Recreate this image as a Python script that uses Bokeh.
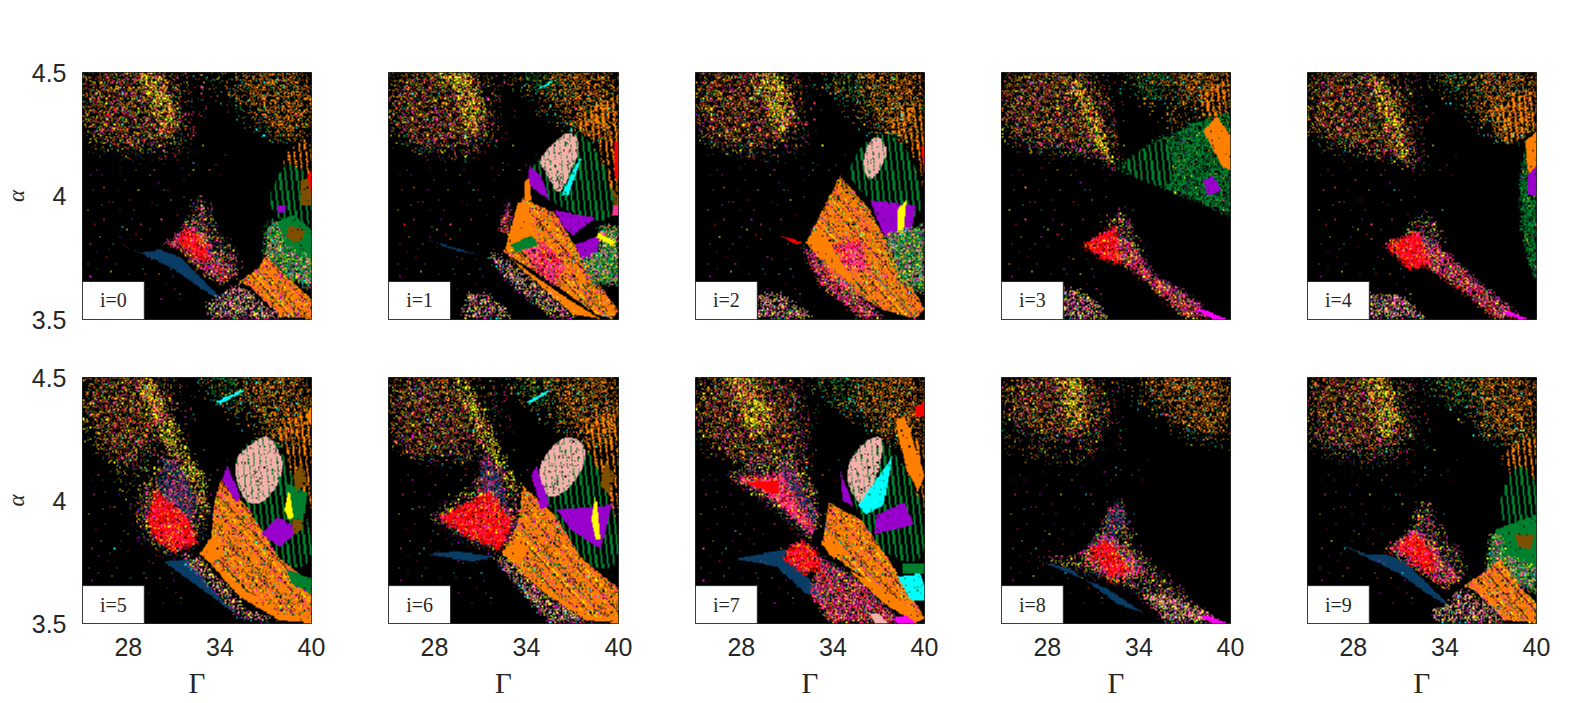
import numpy as np
from bokeh.embed import file_html
from bokeh.resources import INLINE
from bokeh.plotting import figure
from bokeh.layouts import row, column
from bokeh.models import FixedTicker, Title
from bokeh.core.properties import value

X_TICKS = [28, 34, 40]
Y_TICKS = [3.5, 4, 4.5]
Y_LABELS = {3.5: "3.5", 4: "4", 4.5: "4.5"}
PANEL_LABELS = ["i=0", "i=1", "i=2", "i=3", "i=4", "i=5", "i=6", "i=7", "i=8", "i=9"]

C = dict(o="#FF8000", g="#00802E", r="#FF0000", p="#FF3399", v="#9900CC", l="#F4B0AA",
         c="#00FFFF", n="#0A3D66", y="#FFFF00", b="#7F4F00", m="#FF00FF", k="#000000")

# NOTE: the region outlines below are read from the picture. The fine speckle inside them
# cannot be read cell by cell: it is an approximate texture, taken from these two fixed digit strings.
T1 = ("3141592653589793238462643383279502884197169399375105820974944592307816406286208998628034825342117067"
      "9821480865132823066470938446095505822317253594081284811174502841027019385211055596446229489549303819"
      "6442881097566593344612847564823378678316527120190914564856692346034861045432664821339360726024914127"
      "3724587006606315588174881520920962829254091715364367892590360011330530548820466521384146951941511609"
      "4330572703657595919530921861173819326117931051185480744623799627495673518857527248912279381830119491")
T2 = ("2718281828459045235360287471352662497757247093699959574966967627724076630353547594571382178525166427"
      "4274663919320030599218174135966290435729003342952605956307381323286279434907632338298807531952510190"
      "1157383418793070215408914993488416750924476146066808226480016847741185374234544243710753907774499206"
      "9551702761838606261331384583000752044933826560297606737113200709328709127443747047230696977209310141"
      "6928368190255151038")

# name: (solid base or None, [(colour, percent of cells), ...], stripe)
TEX = {
    "cloud": (None, [("b", 9), ("o", 6), ("p", 5), ("r", 2), ("g", 3), ("y", 4), ("m", 1), ("c", 1), ("v", 1)], None),
    "thin": (None, [("p", 2), ("o", 2), ("y", 2), ("g", 2), ("r", 1), ("n", 2), ("b", 2)], None),
    "yband": (None, [("y", 26), ("p", 7), ("g", 6), ("b", 4), ("r", 2)], None),
    "ocl": (None, [("o", 24), ("g", 2), ("p", 1), ("c", 1)], None),
    "othin": (None, [("o", 8), ("g", 3), ("y", 1), ("c", 1)], None),
    "gcl": (None, [("g", 16), ("o", 2), ("c", 1)], None),
    "mix": (None, [("p", 30), ("y", 9), ("r", 9), ("g", 6), ("n", 7), ("v", 5), ("o", 4)], None),
    "mixs": (None, [("p", 10), ("y", 8), ("g", 5), ("n", 8), ("r", 3), ("v", 2)], None),
    "low": (None, [("l", 16), ("y", 10), ("p", 10), ("n", 4), ("c", 2), ("g", 3), ("m", 3)], None),
    "ost": (None, [], ("o", 5, 2, 75)),
    "gst": ("k", [], ("g", 5, 2, 100)),
    "fan": ("o", [("k", 7), ("p", 6), ("g", 3), ("y", 2), ("c", 1), ("v", 1)], "streak"),
    "red": ("r", [("y", 7), ("p", 16), ("k", 6), ("b", 3)], None),
    "pnk": ("p", [("r", 18), ("y", 6), ("g", 3), ("k", 10), ("o", 4)], None),
    "nmx": ("n", [("p", 20), ("y", 3), ("r", 5), ("k", 22), ("g", 2)], None),
    "gmx": ("g", [("k", 30), ("y", 1), ("o", 1), ("v", 1)], None),
    "mgr": ("g", [("l", 8), ("y", 8), ("p", 8), ("c", 3), ("k", 8), ("o", 6), ("v", 4)], None),
    "egg": ("l", [("k", 4)], ("g", 5, 1, 55)),
    "o": ("o", [("k", 1)], None), "g": ("g", [("k", 2)], None), "r": ("r", [], None), "p": ("p", [], None),
    "v": ("v", [("k", 1)], None), "c": ("c", [("g", 3)], None), "n": ("n", [], None), "y": ("y", [], None),
    "b": ("b", [("k", 3)], None), "m": ("m", [], None), "k": ("k", [], None), "l": ("l", [], None),
}
ROUNDED = {"cloud", "thin", "ocl", "othin", "gcl", "gst", "egg"}
# how far (in percent of the panel) a region's edge frays
FRAY = {"cloud": 1.5, "thin": 2.0, "ocl": 1.5, "othin": 2.0, "gcl": 1.5, "yband": 0.6, "mix": 0.4, "mixs": 0.7,
        "low": 0.4, "red": 0.3, "pnk": 0.3, "nmx": 0.4, "mgr": 0.4, "gmx": 0.3, "ost": 0.4}

TOP_L = [0,100, 38,100, 43,85, 44,72, 32,68, 15,68, 5,72, 0,78]
FR_L = [0,100, 47,100, 50,74, 42,60, 25,58, 8,62, 0,68]
TR_O = [70,100, 100,100, 100,72, 84,70, 76,80, 72,90]
FR_R = [52,100, 100,100, 100,66, 84,66, 70,76, 60,84, 52,92]

P0 = [("thin", FR_L), ("cloud", TOP_L), ("yband", [22,100, 34,100, 42,80, 36,72, 30,86]),
      ("othin", FR_R), ("ocl", TR_O),
      ("ost", [88,66, 96,72, 100,70, 100,58, 90,56]),
      ("gst", [81,48, 84,56, 89,64, 96,60, 100,58, 100,34, 85,40]),
      ("b", [95,56, 100,58, 100,46, 95,46]), ("r", [98,58, 100,60, 100,50]),
      ("g", [82,38, 86,40, 92,42, 100,36, 100,14, 95,18, 88,24, 82,26, 80,32]),
      ("mgr", [80,38, 85,40, 88,30, 100,24, 100,12, 90,16, 79,24]),
      ("b", [90,38, 97,36, 96,32, 92,31, 89,33]), ("v", [85,46, 89,46, 88,43, 85,43]),
      ("fan", [68,15, 77,21, 80,26, 88,18, 100,8, 100,0, 86,1, 73,13]),
      ("k", [70,14, 80,4, 84,1, 78,3, 72,10]),
      ("n", [12,32, 25,27, 34,28, 43,25, 50,18, 63,6, 52,12, 40,20, 27,26]),
      ("mixs", [44,36, 48,46, 51,50, 54,46, 58,36, 64,30, 70,18, 60,20]),
      ("mix", [36,30, 46,38, 52,36, 60,24, 68,18, 60,14, 50,20, 44,27]),
      ("red", [40,32, 47,37, 54,30, 56,22, 50,25]),
      ("low", [54,6, 60,9, 66,14, 72,11, 88,0, 56,0])]

P1 = [("thin", FR_L), ("cloud", TOP_L), ("yband", [22,100, 36,100, 42,82, 34,72, 30,88]),
      ("gcl", [52,100, 74,100, 76,85, 60,88]), ("othin", FR_R), ("ocl", TR_O),
      ("c", [62,92, 70,95, 72,97, 64,93]),
      ("ost", [82,80, 90,88, 100,90, 100,42, 96,44, 92,68]),
      ("r", [98,72, 100,72, 100,56, 98,58]), ("b", [96,54, 100,50, 100,42, 96,42]), ("p", [97,42, 100,42, 100,46, 97,46]),
      ("gst", [60,58, 66,66, 79,78, 90,70, 98,50, 97,41, 90,39, 72,46]),
      ("egg", [65,64, 70,70, 79,77, 84,70, 79,60, 74,49, 69,58]),
      ("c", [81,62, 84,66, 78,50, 75,50]), ("v", [61,62, 66,58, 70,48, 64,52, 60,55]),
      ("o", [59,55, 61,57, 62,48, 59,47]),
      ("fan", [50,27, 58,49, 72,43, 82,28, 90,16, 100,3, 97,0, 90,2, 69,16]),
      ("o", [50,27, 56,47, 60,47, 64,32]), ("o", [51,26, 64,17, 78,8, 92,0, 80,2, 70,10]),
      ("pnk", [58,31, 70,30, 77,20, 72,14, 63,20]), ("g", [53,30, 62,34, 65,30, 55,27]),
      ("v", [72,44, 90,41, 80,34, 76,37]), ("v", [81,30, 92,34, 90,26, 84,24]),
      ("mgr", [91,38, 100,37, 100,14, 88,14, 84,24, 92,28]), ("y", [91,35, 99,31, 97,30, 90,33]),
      ("n", [17,32, 28,29, 40,26, 28,28]),
      ("low", [42,27, 50,25, 70,10, 82,0, 72,0, 52,15]), ("mix", [48,36, 52,48, 53,38, 51,34]),
      ("low", [34,10, 42,10, 55,0, 32,0])]

P2 = [("thin", FR_L), ("cloud", TOP_L), ("yband", [24,100, 36,100, 44,82, 36,72, 30,88]),
      ("gcl", [58,100, 72,100, 76,84, 62,84]), ("othin", FR_R), ("ocl", TR_O),
      ("ost", [84,78, 92,86, 100,88, 100,52, 96,66]),
      ("gst", [65,62, 81,78, 96,66, 100,36, 72,50]),
      ("egg", [72,64, 78,76, 85,68, 76,54]), ("r", [98,70, 100,70, 100,58]),
      ("fan", [48,31, 63,58, 76,44, 86,26, 100,4, 96,0, 81,4, 63,14]),
      ("o", [48,31, 54,38, 60,28, 70,14, 58,20]), ("pnk", [60,30, 72,32, 76,20, 66,20]),
      ("v", [76,48, 96,46, 92,24, 81,36]), ("y", [88,44, 92,48, 90,30, 88,32]), ("mgr", [82,34, 100,38, 100,10, 90,14]),
      ("n", [28,35, 38,33, 46,31, 38,33]), ("r", [36,34, 47,31, 44,30]),
      ("mix", [46,29, 52,26, 72,10, 82,0, 72,0, 54,14]), ("low", [28,10, 38,10, 52,0, 26,0])]

P3 = [("thin", FR_L), ("cloud", [0,100, 40,100, 46,78, 50,60, 42,64, 28,68, 10,68, 0,78]),
      ("yband", [28,98, 36,95, 46,72, 50,60, 44,64, 36,80]),
      ("othin", FR_R), ("ocl", [72,100, 100,100, 100,86, 84,84, 74,90]), ("gcl", [52,100, 72,100, 76,90, 60,82]),
      ("ost", [86,92, 100,98, 100,65, 90,72]),
      ("gmx", [50,61, 65,71, 85,80, 100,84, 100,42, 74,52]),
      ("gst", [50,61, 65,71, 72,74, 76,56, 68,53]),
      ("o", [88,76, 94,82, 100,74, 100,60, 96,62]), ("v", [88,56, 92,58, 96,52, 90,50]),
      ("mixs", [44,38, 52,44, 56,38, 62,26, 54,28]),
      ("mix", [36,30, 48,34, 56,32, 66,18, 84,8, 92,0, 80,0, 64,14, 50,24]),
      ("red", [35,30, 50,38, 52,22, 44,24]), ("m", [84,4, 92,0, 98,0, 88,4]),
      ("low", [26,12, 34,12, 48,0, 24,0])]

P4 = [("thin", FR_L), ("cloud", [0,100, 38,100, 46,75, 50,58, 40,64, 10,70, 0,78]),
      ("yband", [26,98, 34,95, 42,72, 46,60, 40,66, 32,84]),
      ("othin", FR_R), ("ocl", TR_O), ("gcl", [58,100, 70,100, 72,90, 60,88]),
      ("ost", [78,84, 92,90, 100,92, 100,78, 92,72, 88,70]),
      ("gmx", [92,56, 96,72, 100,74, 100,14, 96,24, 93,40]), ("o", [95,72, 100,76, 100,58, 96,60]),
      ("v", [96,58, 100,62, 100,50, 96,50]),
      ("mixs", [42,36, 48,40, 51,44, 54,38, 60,30, 52,26]),
      ("mix", [32,30, 48,34, 56,30, 78,12, 94,0, 82,0, 66,12, 50,22]),
      ("red", [34,30, 48,36, 54,22, 44,20]), ("m", [84,3, 92,0, 96,0, 88,3]),
      ("low", [28,10, 38,10, 54,0, 26,0])]

P5 = [("thin", [0,100, 42,100, 44,78, 40,64, 30,42, 22,40, 14,60, 0,68]),
      ("cloud", [0,100, 34,100, 38,85, 32,72, 26,62, 15,62, 0,82]),
      ("mixs", [24,45, 30,58, 36,66, 54,50, 54,36, 46,28, 36,26, 26,34]),
      ("yband", [23,100, 30,98, 40,80, 54,56, 55,44, 48,50, 38,68, 28,86]),
      ("gcl", [52,100, 72,100, 72,85, 58,85]), ("othin", FR_R), ("ocl", TR_O), ("c", [58,90, 70,95, 70,94, 60,89]),
      ("ost", [85,80, 92,84, 100,88, 100,45, 92,58]), ("o", [97,84, 100,88, 100,80]),
      ("nmx", [34,68, 44,62, 50,48, 46,39, 34,50]),
      ("red", [28,43, 32,54, 46,43, 50,32, 40,29, 31,34]),
      ("n", [35,25, 46,26, 58,12, 69,2, 59,9]),
      ("low", [43,27, 51,27, 72,5, 85,0, 69,2]),
      ("gst", [66,70, 81,78, 88,68, 100,38, 100,23, 88,22, 78,36, 69,50]),
      ("egg", [65,66, 75,74, 81,77, 88,66, 85,55, 76,47, 69,51]),
      ("fan", [51,28, 56,35, 57,47, 60,58, 72,47, 85,27, 100,16, 100,0, 88,2, 72,11]),
      ("o", [51,28, 57,36, 62,28, 58,26]), ("o", [53,27, 70,14, 86,4, 100,2, 100,0, 86,1, 68,11]),
      ("v", [61,58, 63,64, 69,51, 67,49]), ("g", [89,57, 98,53, 96,39, 89,42]),
      ("y", [88,46, 90,54, 92,43, 90,42]), ("v", [78,36, 85,43, 95,38, 86,31]),
      ("g", [89,22, 100,18, 100,12, 91,16]), ("b", [92,60, 96,66, 98,56, 93,54]),
      ("b", [91,42, 96,42, 96,38, 92,36])]

P6 = [("thin", FR_L), ("cloud", [0,100, 30,100, 40,78, 33,66, 10,66, 0,76]),
      ("mixs", [18,42, 34,54, 44,66, 56,50, 56,32, 46,28, 34,32]),
      ("yband", [28,100, 36,94, 58,50, 52,54, 38,76]),
      ("gcl", [52,100, 72,100, 72,85, 60,84]), ("othin", FR_R), ("ocl", TR_O), ("c", [60,90, 70,95, 70,94, 61,89]),
      ("ost", [84,80, 92,84, 100,88, 100,40, 90,60]),
      ("nmx", [40,70, 48,62, 53,42, 49,32, 40,52]),
      ("red", [21,43, 36,50, 44,54, 54,42, 49,30, 36,34]),
      ("n", [16,28, 30,29, 47,27, 36,25]),
      ("low", [46,27, 57,25, 72,10, 90,0, 70,0, 56,14]),
      ("gst", [64,64, 77,78, 88,70, 100,40, 100,22, 86,22, 70,46]),
      ("egg", [64,64, 77,78, 88,70, 79,54, 68,50]),
      ("fan", [49,28, 56,40, 58,56, 72,44, 84,26, 100,14, 100,0, 88,1, 68,14]),
      ("o", [49,28, 58,36, 60,28, 56,25]), ("o", [51,26, 68,14, 86,3, 100,2, 100,0, 86,1, 68,12]),
      ("v", [62,60, 64,64, 70,48, 66,46]), ("v", [73,46, 97,48, 92,30, 79,38]),
      ("y", [88,42, 90,52, 92,34, 90,34]), ("b", [94,66, 98,60, 96,52, 92,56])]

P7 = [("thin", FR_L), ("cloud", [0,100, 42,100, 46,76, 48,60, 35,62, 15,64, 0,78]),
      ("mixs", [14,60, 34,68, 50,58, 54,40, 50,32, 34,46, 24,52]),
      ("yband", [12,100, 26,100, 34,80, 24,74]),
      ("gcl", [52,100, 72,100, 74,84, 60,82]), ("othin", FR_R), ("ocl", TR_O), ("r", [96,88, 100,90, 100,84, 96,84]),
      ("nmx", [38,66, 44,60, 52,44, 52,38, 44,40, 36,50]),
      ("yband", [39,70, 54,48, 50,52, 42,62]),
      ("pnk", [17,59, 38,60, 40,56, 52,38, 50,36, 36,48, 28,54]),
      ("r", [22,57, 36,58, 36,52, 30,54]),
      ("n", [17,26, 39,30, 51,16, 60,7, 48,12, 35,23]),
      ("mix", [54,27, 70,18, 90,0, 58,0, 50,12]),
      ("red", [41,31, 46,34, 52,30, 55,22, 47,20, 38,26]),
      ("ost", [87,82, 92,84, 100,70, 100,42, 92,66]),
      ("gst", [70,46, 64,64, 77,78, 90,66, 100,46, 100,22, 78,30]),
      ("egg", [64,63, 77,77, 83,74, 76,50, 70,48]),
      ("c", [71,48, 86,68, 85,63, 82,48, 74,44]), ("v", [63,62, 69,47, 64,50]),
      ("v", [79,44, 91,49, 95,40, 78,36]),
      ("o", [87,82, 91,84, 100,60, 97,54, 92,62]),
      ("fan", [55,32, 58,49, 72,42, 84,26, 100,2, 96,0, 77,16, 66,23]),
      ("o", [55,32, 60,36, 66,28, 60,26]), ("o", [66,22, 82,14, 100,2, 96,0, 82,8]),
      ("c", [88,19, 98,20, 100,15, 100,9, 94,9]), ("g", [90,24, 100,24, 100,20, 90,20]),
      ("m", [86,2, 92,3, 96,0, 88,0]), ("l", [76,4, 80,4, 84,0, 78,0])]

P8 = [("thin", FR_L), ("cloud", [0,100, 40,100, 45,85, 40,74, 15,74, 0,84]),
      ("yband", [24,100, 34,100, 38,82, 30,76]),
      ("othin", FR_R), ("ocl", [64,100, 100,100, 100,75, 82,75, 68,88]),
      ("mixs", [17,25, 36,27, 44,40, 51,50, 54,42, 60,28, 80,10, 94,0, 76,0, 62,10, 48,16]),
      ("nmx", [44,42, 51,50, 54,42, 48,34]),
      ("mix", [34,28, 44,36, 56,30, 62,20, 48,16]),
      ("red", [38,30, 46,34, 56,22, 48,18]),
      ("n", [17,25, 30,22, 50,8, 62,4, 46,14]),
      ("low", [60,12, 78,10, 96,0, 72,0]), ("m", [86,3, 92,0, 98,0, 90,3])]

P9 = [("thin", FR_L), ("cloud", TOP_L), ("yband", [24,100, 34,100, 40,82, 34,72, 28,88]),
      ("gcl", [55,100, 74,100, 74,84, 60,84]), ("othin", FR_R), ("ocl", TR_O),
      ("ost", [84,68, 96,76, 100,76, 100,50, 90,56]),
      ("gst", [82,46, 90,66, 100,60, 100,38, 86,40]),
      ("g", [82,38, 100,44, 100,18, 90,22, 82,26]), ("b", [90,36, 99,36, 97,30, 92,31]),
      ("mgr", [80,36, 84,36, 86,28, 100,22, 100,12, 90,16, 78,22]),
      ("fan", [68,15, 77,21, 84,26, 92,15, 100,8, 100,0, 86,1, 73,13]),
      ("n", [14,32, 25,28, 34,28, 43,25, 50,18, 63,6, 52,12, 40,20, 27,26]),
      ("mixs", [44,36, 48,46, 51,50, 54,46, 58,36, 64,30, 70,18, 60,20]),
      ("mix", [34,30, 46,38, 52,36, 60,24, 68,18, 60,14, 50,20]),
      ("red", [38,32, 47,37, 54,30, 56,20, 50,22]),
      ("low", [54,5, 62,8, 66,14, 72,12, 88,0, 56,0])]

PANELS = [P0, P1, P2, P3, P4, P5, P6, P7, P8, P9]

STRAY = {
    "p": [4,52, 9,40, 14,22, 22,44, 31,60, 46,58, 3,30, 27,18, 40,12, 18,56, 34,40, 58,62, 11,47, 25,38, 37,52, 6,60, 44,28],
    "y": [7,33, 24,52, 12,19, 38,48, 52,70, 33,18, 2,44, 19,36, 29,58, 48,60, 42,10],
    "g": [11,28, 29,36, 44,56, 6,20, 20,18, 36,24, 62,66, 42,8, 16,44, 32,46, 50,62],
    "c": [17,37, 35,52, 8,46, 48,63, 26,20, 56,44, 13,30, 38,20],
    "r": [5,38, 19,29, 30,47, 41,42, 10,25, 60,58, 16,61, 23,34, 36,14],
    "o": [13,47, 25,32, 37,30, 2,22, 23,60, 44,49, 55,60, 9,53, 30,24],
    "v": [6,27, 21,40, 33,55, 15,52, 39,17, 47,36, 28,12, 3,58],
    "m": [8,58, 16,33, 28,25, 43,61, 3,17, 20,48, 34,8],
}

N = 200
KEY_IDX = {k: j for j, k in enumerate(C)}
RGBA = np.array([int(C[k][1:3], 16) | int(C[k][3:5], 16) << 8 | int(C[k][5:7], 16) << 16 | 255 << 24 for k in C], dtype=np.uint32)
D1 = np.array([int(ch) for ch in T1])
D2 = np.array([int(ch) for ch in T2])
CC, RR = np.meshgrid(np.arange(N), np.arange(N))
NOISE = D1[(RR * 41 + CC) % len(D1)] * 10 + D2[(RR * 37 + CC) % len(D2)]
UU, VV = (CC + 0.5) / 2, (RR + 0.5) / 2


def rounded(xs, ys):
    nx, ny = np.roll(xs, -1), np.roll(ys, -1)
    return (np.column_stack([0.75 * xs + 0.25 * nx, 0.25 * xs + 0.75 * nx]).ravel(),
            np.column_stack([0.75 * ys + 0.25 * ny, 0.25 * ys + 0.75 * ny]).ravel())


def inside(xs, ys, U, V):
    m = np.zeros((N, N), bool)
    for j in range(len(xs)):
        x0, y0, x1, y1 = xs[j], ys[j], xs[(j + 1) % len(xs)], ys[(j + 1) % len(xs)]
        if y0 == y1:
            continue
        m ^= ((y0 > V) != (y1 > V)) & (U < x0 + (V - y0) * (x1 - x0) / (y1 - y0))
    return m


def paint(grid, key, pts, shift):
    xs, ys = np.array(pts[0::2], float), np.array(pts[1::2], float)
    if key in ROUNDED:
        xs, ys = rounded(*rounded(xs, ys))
    noise = np.roll(NOISE, (shift * 13, shift * 29), axis=(0, 1))
    fray = FRAY.get(key, 0)
    U = UU + (noise % 7 - 3) * fray
    V = VV + ((noise // 7) % 7 - 3) * fray
    m = inside(xs, ys, U, V)
    base, mix, stripe = TEX[key]
    if base:
        grid[m] = KEY_IDX[base]
    if stripe == "streak":
        grid[m & ((CC + RR) % 13 == 0) & (noise > 45)] = KEY_IDX["k"]
        grid[m & ((CC + RR) % 17 == 3) & (noise > 30)] = KEY_IDX["p"]
        grid[m & ((CC + RR) % 23 == 7) & (noise > 40)] = KEY_IDX["g"]
        grid[m & ((CC + RR) % 29 == 11) & (noise > 50)] = KEY_IDX["y"]
    elif stripe:
        ck, period, width, keep = stripe
        grid[m & (((CC + RR // 8) % period) < width) & (noise < keep)] = KEY_IDX[ck]
    low = 0
    for ck, pct in mix:
        grid[m & (noise >= low) & (noise < low + pct)] = KEY_IDX[ck]
        low += pct


figs = []
for i, polys in enumerate(PANELS):
    col, r = i % 5, i // 5
    left = 82 if col == 0 else 38
    right = 20 if col == 4 else 39
    fw = 230 if col == 1 else 229
    top = 72 if r == 0 else 28
    bottom = 30 if r == 0 else 78
    fh = 247 if r == 0 else 246
    p = figure(width=left + fw + right, height=top + fh + bottom, x_range=(25, 40), y_range=(3.5, 4.5),
               output_backend="svg", toolbar_location=None, min_border_left=left, min_border_right=right,
               min_border_top=top, min_border_bottom=bottom, background_fill_color="black",
               outline_line_color="#262626", outline_line_width=1)
    p.grid.visible = False
    p.xaxis.ticker = FixedTicker(ticks=X_TICKS)
    p.yaxis.ticker = FixedTicker(ticks=Y_TICKS)
    p.yaxis.major_label_overrides = Y_LABELS
    for ax in (p.xaxis[0], p.yaxis[0]):
        ax.major_tick_line_color = None
        ax.minor_tick_line_color = None
        ax.axis_line_color = None
        ax.major_label_text_font = "Liberation Sans"
        ax.major_label_text_font_size = "25px"
        ax.major_label_text_color = "#262626"
    p.xaxis.axis_label = "Γ"
    p.xaxis.axis_label_text_font = "Liberation Serif"
    p.xaxis.axis_label_text_color = "#262626"
    p.xaxis.axis_label_text_font_style = "normal"
    p.xaxis.axis_label_text_font_size = "29px"
    p.xaxis.major_label_standoff = 8
    p.yaxis.major_label_standoff = 10
    p.yaxis.major_label_orientation = "horizontal"
    p.xaxis.axis_label_standoff = 8
    p.xaxis.visible = r == 1
    p.yaxis.visible = col == 0
    if col == 0:
        p.add_layout(Title(text="α", align="center", text_font="Liberation Serif", text_font_style="italic",
                           text_font_size="23px", text_color="#262626", standoff=0, offset=0), "left")

    grid = np.full((N, N), KEY_IDX["k"], dtype=int)
    for s, (key, pts) in enumerate(polys):
        paint(grid, key, pts, s + i * 3)
    for ck, pts in STRAY.items():
        us, vs = np.array(pts[0::2]), np.array(pts[1::2])
        grid[np.clip(vs * 2, 0, N - 1), np.clip(us * 2 + (i * 3) % 7, 0, N - 1)] = KEY_IDX[ck]
    ri = np.minimum((np.arange(fh) * N) // fh, N - 1)
    ci = np.minimum((np.arange(fw) * N) // fw, N - 1)
    img = RGBA[grid][np.ix_(ri, ci)]
    p.image_rgba(image=[img], x=25, y=3.5, dw=15, dh=1)
    p.quad(left=[25], right=[25 + 27 * 0.15], bottom=[3.5], top=[3.654], fill_color="white",
           line_color="#262626", line_width=1)
    p.text([25 + 13.5 * 0.15], [3.577], text=[PANEL_LABELS[i]], text_font=value("Liberation Serif"),
           text_font_size="20px", text_align="center", text_baseline="middle", text_color="#262626")
    figs.append(p)

layout = column(row(*figs[:5]), row(*figs[5:]))
open("out.html", "w").write(file_html(layout, INLINE))
